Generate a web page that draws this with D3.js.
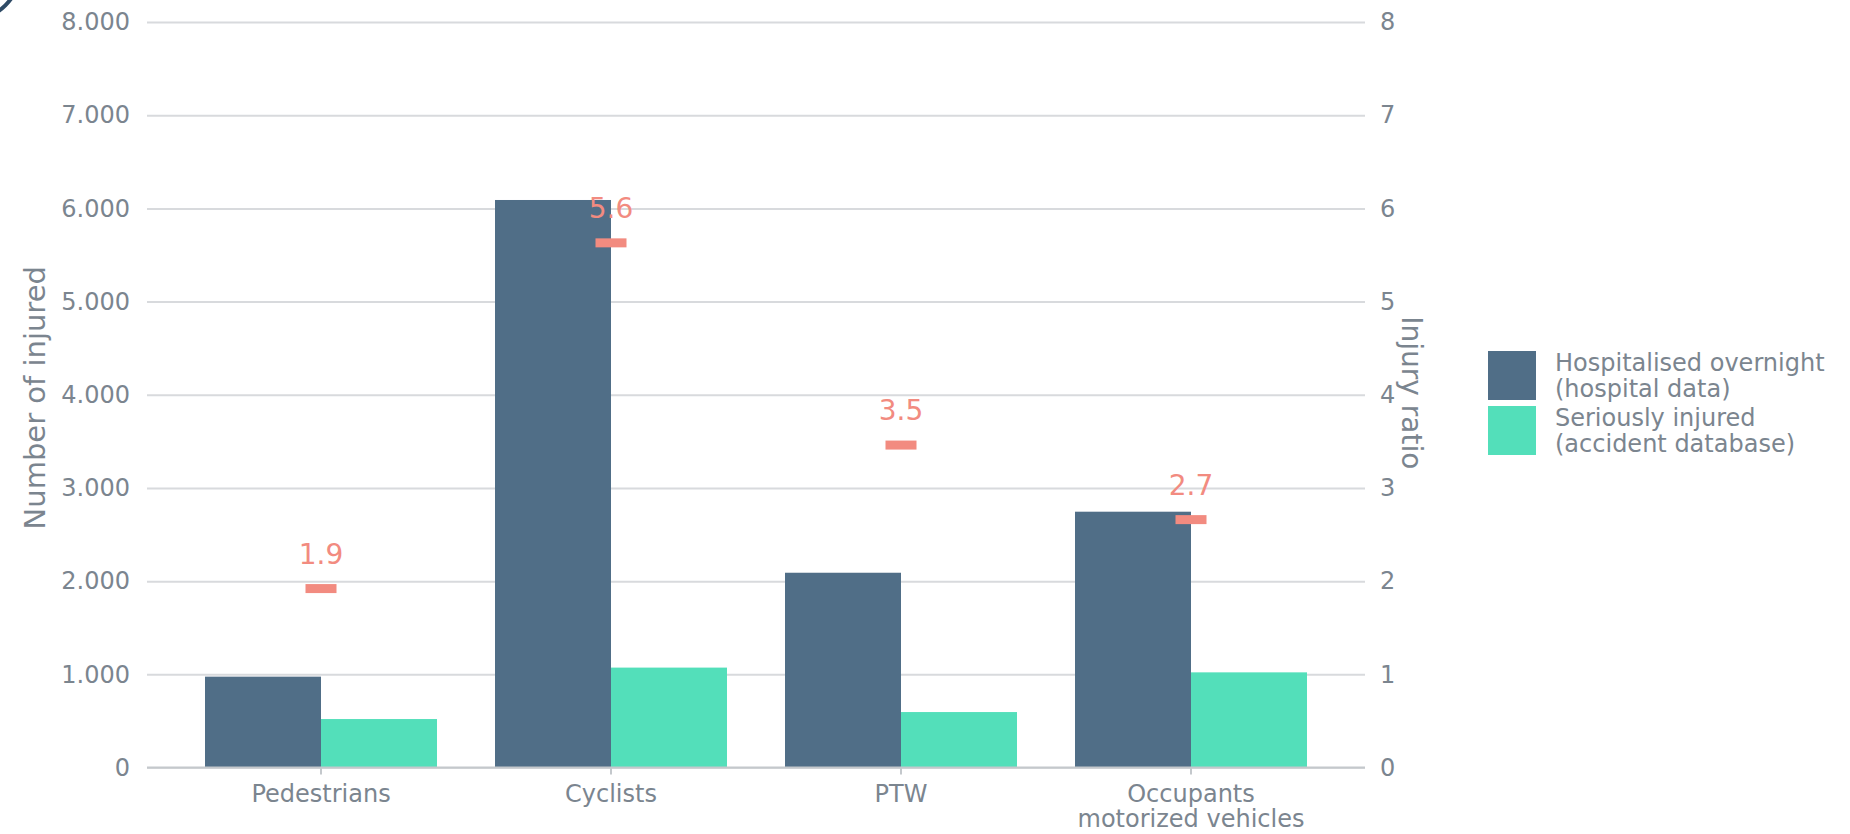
<!DOCTYPE html>
<html>
<head>
<meta charset="utf-8">
<script src="https://cdn.jsdelivr.net/npm/d3@7"></script>
<style>
  body { margin: 0; background: #fff; }
  svg text { font-family: "DejaVu Sans", sans-serif; }
</style>
</head>
<body>
<div id="vis"></div>
<script>
// data
const categories = ["Pedestrians", "Cyclists", "PTW", "Occupants\nmotorized vehicles"];
const series = ["hospital", "accident"];
const seriesLabels = [["Hospitalised overnight", "(hospital data)"], ["Seriously injured", "(accident database)"]];
const hospitalised = [975, 6090, 2090, 2745];
const seriouslyInjured = [520, 1072, 595, 1021];
const injuryRatio = [1.92, 5.63, 3.46, 2.66];
const leftTicks = [0, 1000, 2000, 3000, 4000, 5000, 6000, 7000, 8000];
const rightTicks = [0, 1, 2, 3, 4, 5, 6, 7, 8];

const colors = { hospital: "#506e87", accident: "#53dfba", ratio: "#f28b80" };
const textGray = "#7b858f";
const gridGray = "#d8dadd";

const W = 1850, H = 834;
const panel = { left: 147, right: 1365, top: 22, bottom: 767.5 };

const svg = d3.select("#vis").append("svg")
  .attr("width", W)
  .attr("height", H);

// small dark arc in the top-left corner of the picture
svg.append("circle")
  .attr("cx", -30).attr("cy", -30).attr("r", 50)
  .attr("fill", "none")
  .attr("stroke", "#2f4b66")
  .attr("stroke-width", 4);

const nl = d3.formatLocale({ decimal: ",", thousands: ".", grouping: [3], currency: ["", ""] });
const fmtThousands = nl.format(",.0f");

const y = d3.scaleLinear().domain([0, 8000]).range([panel.bottom, panel.top]);
const yRatio = d3.scaleLinear().domain([0, 8]).range([panel.bottom, panel.top]);

const x0 = d3.scaleBand()
  .domain(categories)
  .range([panel.left, panel.right])
  .padding(0.2);

const x1 = d3.scaleBand()
  .domain(series)
  .range([0, x0.bandwidth()]);

// left axis with gridlines
const gLeft = svg.append("g")
  .attr("transform", `translate(${panel.left},0)`)
  .call(d3.axisLeft(y)
    .tickValues(leftTicks)
    .tickSize(-(panel.right - panel.left))
    .tickPadding(17)
    .tickFormat(d => fmtThousands(d)));
gLeft.select(".domain").remove();
gLeft.selectAll(".tick line").attr("stroke", gridGray).attr("stroke-width", 2);
gLeft.selectAll(".tick text")
  .attr("fill", textGray)
  .attr("font-size", 24)
  .attr("font-family", "DejaVu Sans");

// right axis
const gRight = svg.append("g")
  .attr("transform", `translate(${panel.right},0)`)
  .call(d3.axisRight(yRatio).tickValues(rightTicks).tickSize(0).tickPadding(15));
gRight.select(".domain").remove();
gRight.selectAll(".tick text")
  .attr("fill", textGray)
  .attr("font-size", 24)
  .attr("font-family", "DejaVu Sans");

// bars
const rows = categories.map((c, i) => ({
  cat: c,
  values: [
    { key: "hospital", value: hospitalised[i] },
    { key: "accident", value: seriouslyInjured[i] }
  ]
}));

svg.append("g")
  .selectAll("g")
  .data(rows)
  .join("g")
  .attr("transform", d => `translate(${x0(d.cat)},0)`)
  .selectAll("rect")
  .data(d => d.values)
  .join("rect")
  .attr("x", d => x1(d.key))
  .attr("y", d => y(d.value))
  .attr("width", x1.bandwidth())
  .attr("height", d => y(0) - y(d.value))
  .attr("fill", d => colors[d.key]);

// bottom axis
const gBottom = svg.append("g")
  .attr("transform", `translate(0,${panel.bottom})`)
  .call(d3.axisBottom(x0).tickSize(7).tickPadding(10));
gBottom.select(".domain")
  .attr("d", `M${panel.left},0H${panel.right}`)
  .attr("stroke", "#c4c8cc")
  .attr("stroke-width", 2);
gBottom.selectAll(".tick line").attr("stroke", "#c4c8cc").attr("stroke-width", 2);
gBottom.selectAll(".tick text")
  .attr("fill", textGray)
  .attr("font-size", 24)
  .attr("font-family", "DejaVu Sans")
  .each(function (d) {
    const lines = d.split("\n");
    const t = d3.select(this).text(null);
    lines.forEach((ln, i) => {
      t.append("tspan")
        .attr("x", 0)
        .attr("dy", i === 0 ? "0.71em" : "1.06em")
        .text(ln);
    });
  });

// ratio markers
const fmtRatio = d3.format(".1f");
const markW = 31, markH = 9;
const ratioG = svg.append("g");
ratioG.selectAll("rect")
  .data(injuryRatio)
  .join("rect")
  .attr("x", (d, i) => x0(categories[i]) + x0.bandwidth() / 2 - markW / 2)
  .attr("y", d => yRatio(d) - markH / 2)
  .attr("width", markW)
  .attr("height", markH)
  .attr("fill", colors.ratio);
ratioG.selectAll("text")
  .data(injuryRatio)
  .join("text")
  .attr("x", (d, i) => x0(categories[i]) + x0.bandwidth() / 2)
  .attr("y", d => yRatio(d) - 25)
  .attr("text-anchor", "middle")
  .attr("font-size", 28)
  .attr("fill", colors.ratio)
  .text(d => fmtRatio(d));

// axis titles
svg.append("text")
  .attr("transform", `translate(45,${(panel.top + panel.bottom) / 2 + 3}) rotate(-90)`)
  .attr("text-anchor", "middle")
  .attr("font-size", 29)
  .attr("fill", textGray)
  .text("Number of injured");

svg.append("text")
  .attr("transform", `translate(1402,${(panel.top + panel.bottom) / 2 - 2}) rotate(90)`)
  .attr("text-anchor", "middle")
  .attr("font-size", 28)
  .attr("fill", textGray)
  .text("Injury ratio");

// legend
const legend = svg.append("g").attr("transform", "translate(1488,351)");
const keyH = 49, keyGap = 6;
const items = legend.selectAll("g")
  .data(series)
  .join("g")
  .attr("transform", (d, i) => `translate(0,${i * (keyH + keyGap)})`);
items.append("rect")
  .attr("width", 48)
  .attr("height", keyH)
  .attr("fill", d => colors[d]);
items.append("text")
  .attr("x", 67)
  .attr("font-size", 24)
  .attr("fill", textGray)
  .selectAll("tspan")
  .data((d, i) => seriesLabels[i])
  .join("tspan")
  .attr("x", 67)
  .attr("y", (d, i) => 20 + i * 26)
  .text(d => d);
</script>
</body>
</html>
